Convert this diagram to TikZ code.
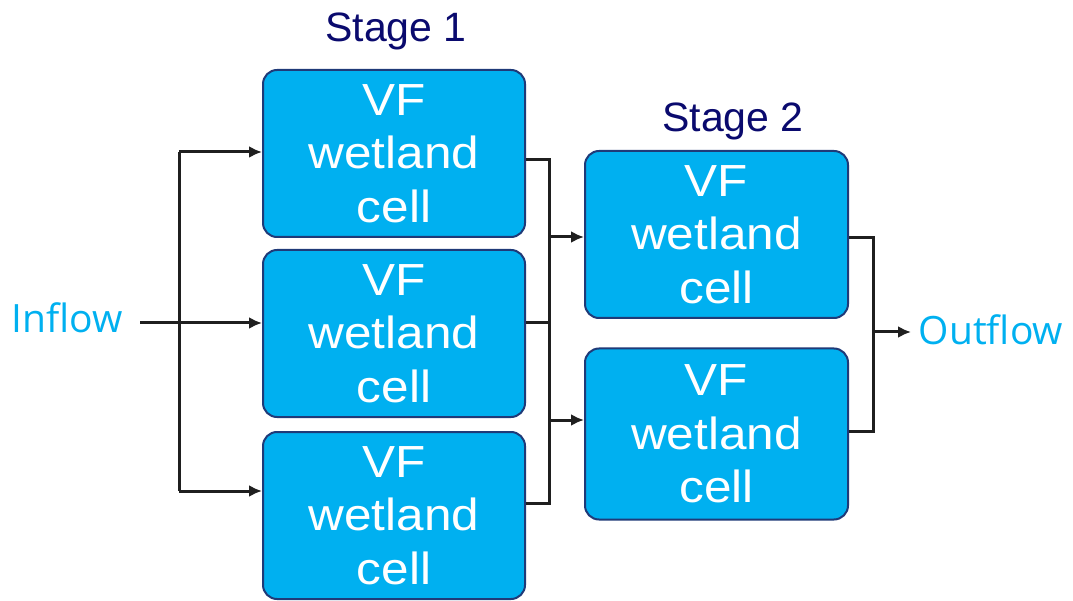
\documentclass[tikz,border=0pt]{standalone}
\usepackage{fontspec}
\setmainfont{Liberation Sans}
\newfontfamily\cellfont[FakeStretch=1.1]{Liberation Sans}
\newfontfamily\flowfont{Open Sans}
\usetikzlibrary{arrows.meta}
\definecolor{cellfill}{HTML}{00B0F0}
\definecolor{celledge}{HTML}{1F3A78}
\definecolor{stagecol}{HTML}{0A0A6E}
\definecolor{flowcol}{HTML}{00B0F0}
\tikzset{
  cellbox/.style={draw=celledge, line width=2pt, fill=cellfill, rounded corners=14pt,
    minimum width=262pt, minimum height=167pt, inner sep=0pt, text=white,
    align=center, font=\cellfont\fontsize{45}{53.5}\selectfont},
  stagelbl/.style={text=stagecol, inner sep=0pt, font=\fontsize{41}{48}\selectfont},
  flowlbl/.style={text=flowcol, inner sep=0pt, font=\flowfont\fontsize{39}{46}\selectfont},
  conn/.style={line width=3pt, draw=black!88},
  arr/.style={conn, -{Latex[length=13pt,width=12pt]}}
}
\begin{document}
\begin{tikzpicture}[x=1pt,y=-1pt]
\useasboundingbox (0,0) rectangle (1073,601);
% stage 1 cells
\node[cellbox] (s1a) at (394,153.5) {VF\\wetland\\cell};
\node[cellbox] (s1b) at (394,333.5) {VF\\wetland\\cell};
\node[cellbox] (s1c) at (394,515.5) {VF\\wetland\\cell};
% stage 2 cells
\node[cellbox, minimum width=263pt] (s2a) at (716.5,234.5) {VF\\wetland\\cell};
\node[cellbox, minimum width=263pt, minimum height=171pt] (s2b) at (716.5,434) {VF\\wetland\\cell};
% labels
\node[stagelbl] (st1) at (396,31) {Stage 1};
\node[stagelbl] (st2) at (733,121) {Stage 2};
\node[flowlbl] (in) at (67,318) {Inflow};
\node[flowlbl] (out) at (991,330) {Outflow};
% bus coordinates
\coordinate (inStart) at (140,323);
\coordinate (b1top) at (179,152);
\coordinate (b1bot) at (179,491);
\coordinate (b2top) at (549,160);
\coordinate (b2mid) at (549,323);
\coordinate (b2bot) at (549,503);
\coordinate (b2a) at (549,237);
\coordinate (b2b) at (549,420);
\coordinate (b3top) at (873,238);
\coordinate (b3bot) at (873,431);
\coordinate (b3mid) at (873,332);
\coordinate (outEnd) at (911,332);
% inflow distribution
\draw[arr] (inStart) -- (s1b.west |- inStart);
\draw[conn] (b1top) -- (b1bot);
\draw[arr] (b1top) -- (s1a.west |- b1top);
\draw[arr] (b1bot) -- (s1c.west |- b1bot);
% stage 1 to stage 2
\draw[conn] (s1a.east |- b2top) -- (b2top) -- (b2bot) -- (s1c.east |- b2bot);
\draw[conn] (s1b.east |- b2mid) -- (b2mid);
\draw[arr] (b2a) -- (s2a.west |- b2a);
\draw[arr] (b2b) -- (s2b.west |- b2b);
% stage 2 to outflow
\draw[conn] (s2a.east |- b3top) -- (b3top) -- (b3bot) -- (s2b.east |- b3bot);
\draw[arr] (b3mid) -- (outEnd);
\end{tikzpicture}
\end{document}
